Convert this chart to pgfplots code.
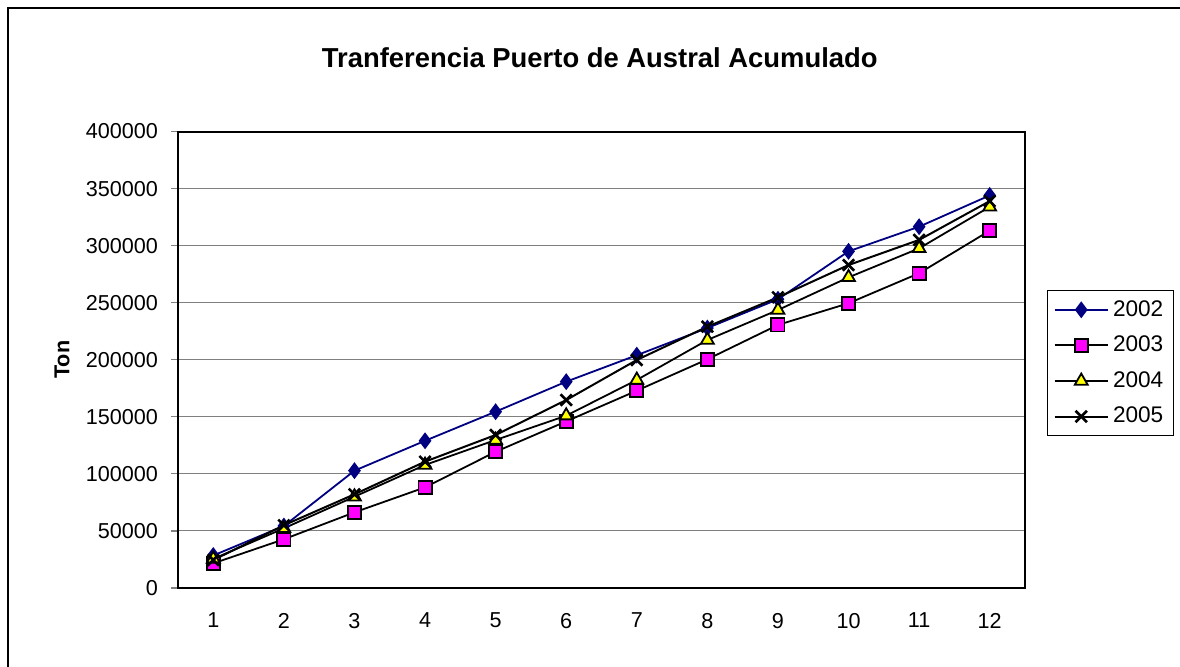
\documentclass[border=0pt]{standalone}
\usepackage{fontspec}
\setmainfont{Liberation Sans}
\usepackage{pgfplots}
\pgfplotsset{compat=1.18}
\definecolor{navy2002}{RGB}{0,0,128}
\definecolor{mag2003}{RGB}{255,0,255}
\definecolor{yel2004}{RGB}{255,255,0}
\definecolor{gridgray}{RGB}{128,128,128}
\begin{document}
\begin{tikzpicture}
\useasboundingbox (0,0) rectangle (590pt,333pt);
\draw[line width=0.7pt] (4pt,-2pt) -- (4pt,329pt) -- (592pt,329pt);
\begin{axis}[
    at={(89pt,39pt)}, anchor=south west,
    scale only axis,
    width=423.5pt, height=228.25pt,
    xmin=0.5, xmax=12.5,
    ymin=0, ymax=400000,
    xtick={1,...,12},
    minor xtick={0.5,1.5,...,12.5},
    ytick={0,50000,...,400000},
    xtick pos=bottom, ytick pos=left,
    ymajorgrids,
    grid style={gridgray, line width=0.5pt},
    axis line style={line width=1pt},
    tick align=outside,
    xtick style={draw=none},
    minor tick length=3.5pt,
    major tick length=3.5pt,
    minor x tick style={gridgray, line width=0.6pt},
    y tick style={gridgray, line width=0.6pt},
    tick label style={font=\fontsize{10.8pt}{12pt}\selectfont},
    xticklabel style={yshift=-5.5pt},
    yticklabel style={xshift=-3pt},
    /pgf/number format/assume math mode=true,
    /pgf/number format/fixed,
    /pgf/number format/precision=0,
    /pgf/number format/1000 sep={},
    scaled y ticks=false,
    title={Tranferencia Puerto de Austral Acumulado},
    title style={font=\bfseries\fontsize{13.7pt}{15pt}\selectfont,
        at={(axis description cs:0.498,1.135)}, anchor=center},
    ylabel={Ton},
    ylabel style={font=\bfseries\fontsize{10.8pt}{12pt}\selectfont,
        at={(axis description cs:-0.137,0.5)}, anchor=center},
    legend style={at={(1.026,0.653)}, anchor=north west,
        draw=black, line width=0.5pt,
        font=\fontsize{11.3pt}{12pt}\selectfont,
        row sep=4.4pt, inner sep=3pt,
        legend cell align=left},
    legend image code/.code={
        \draw[mark repeat=2,mark phase=2,#1]
        plot coordinates {(0cm,0cm) (0.47cm,0cm) (0.94cm,0cm)};},
]
\addplot[navy2002, line width=0.9pt, mark=diamond*, mark size=3.5pt,
    mark options={fill=navy2002, draw=navy2002}] coordinates {
    (1,28500) (2,54300) (3,102800) (4,129000) (5,154500) (6,180800)
    (7,204000) (8,227800) (9,253000) (10,295000) (11,316600) (12,344000)
};
\addlegendentry{2002}
\addplot[black, line width=0.9pt, mark=square*, mark size=3.3pt,
    mark options={fill=mag2003, draw=black, line width=0.9pt}] coordinates {
    (1,21600) (2,42700) (3,66300) (4,88200) (5,119400) (6,146000)
    (7,172900) (8,200400) (9,230500) (10,249500) (11,275800) (12,313100)
};
\addlegendentry{2003}
\addplot[black, line width=0.9pt, mark=triangle*, mark size=3.7pt,
    mark options={fill=yel2004, draw=black, line width=0.9pt}] coordinates {
    (1,25500) (2,52300) (3,80000) (4,107800) (5,129700) (6,151000)
    (7,182300) (8,217300) (9,243600) (10,272200) (11,297600) (12,334000)
};
\addlegendentry{2004}
\addplot[black, line width=1pt, mark=x, mark size=4pt,
    mark options={draw=black, line width=1.3pt}] coordinates {
    (1,24500) (2,55000) (3,82100) (4,110700) (5,134100) (6,164700)
    (7,199800) (8,229000) (9,254700) (10,283000) (11,305000) (12,339000)
};
\addlegendentry{2005}
\end{axis}
\end{tikzpicture}
\end{document}
